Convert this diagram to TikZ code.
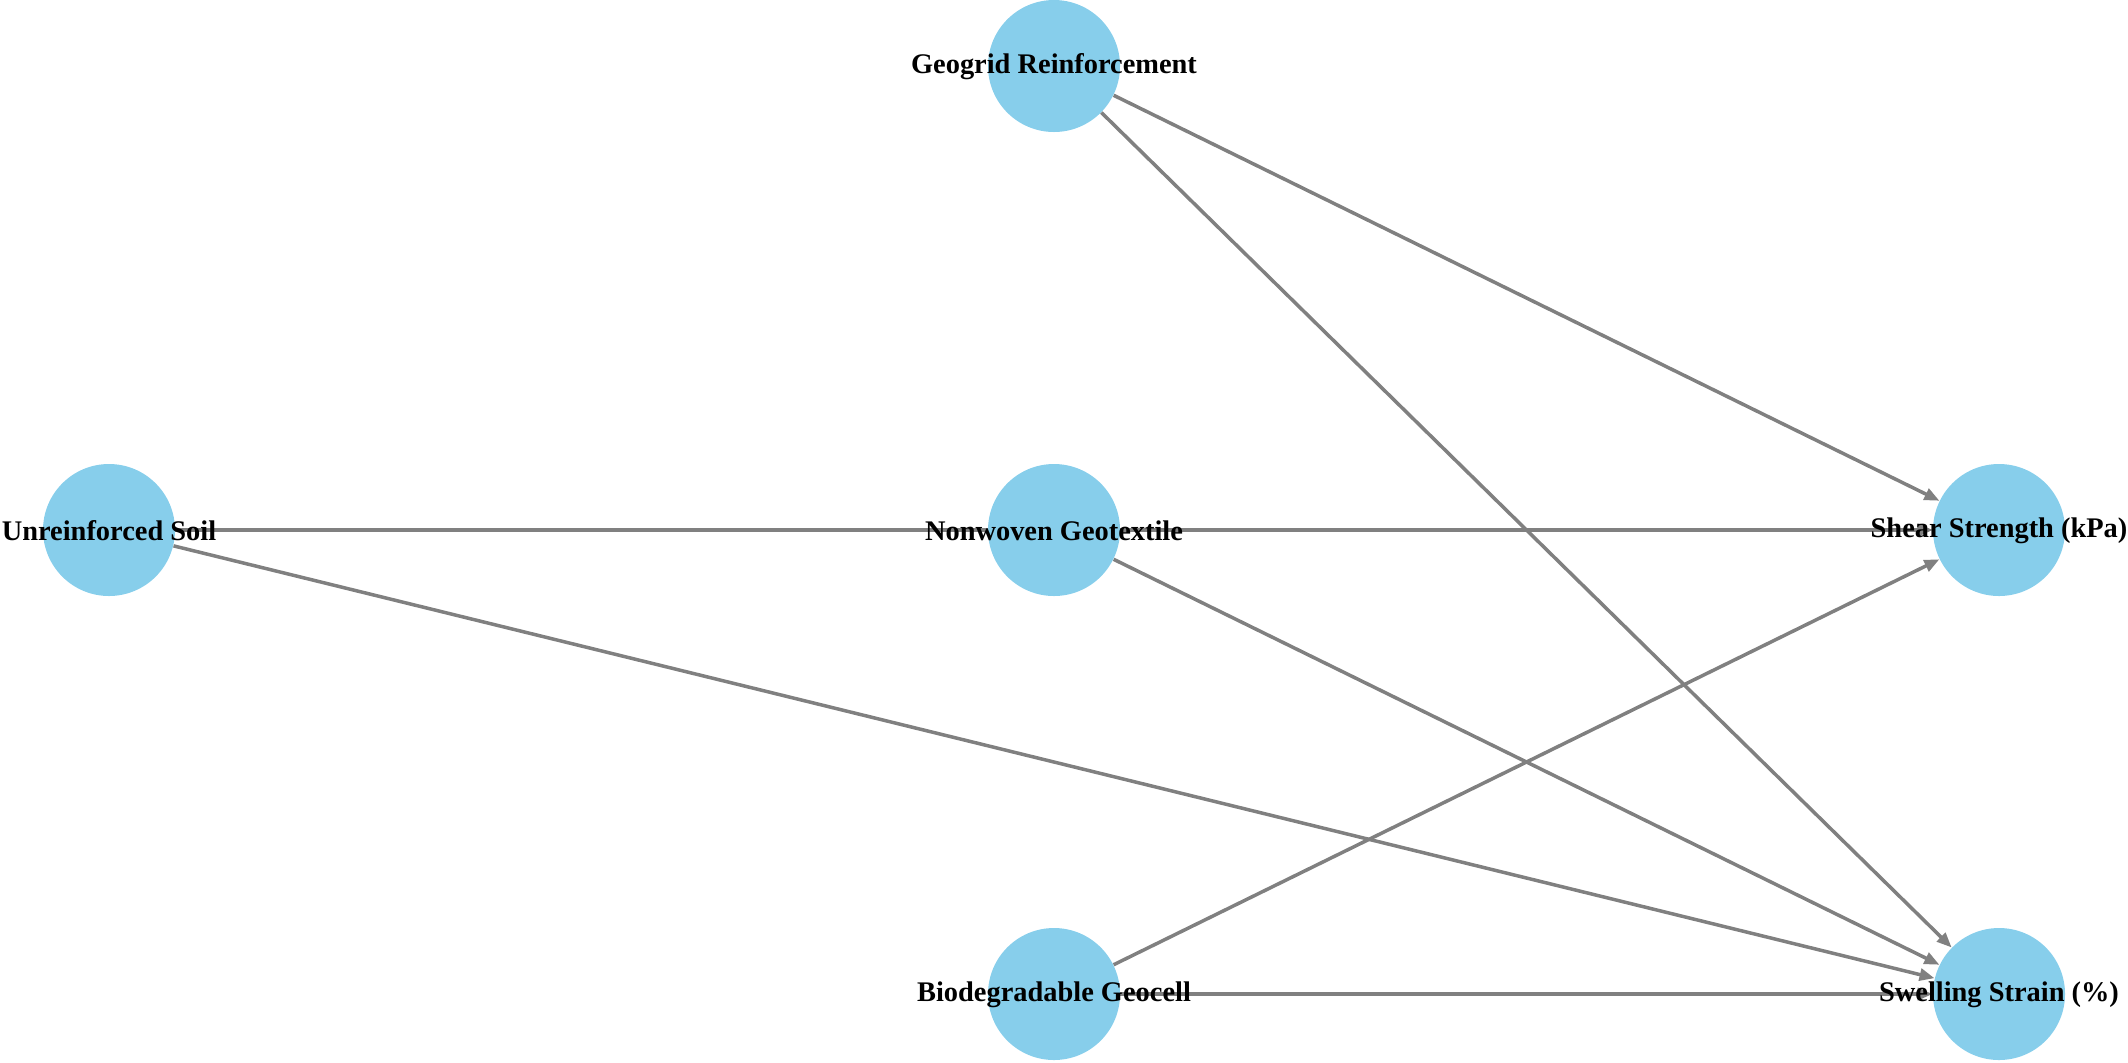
\documentclass[tikz,border=0pt]{standalone}
\usepackage{fontspec}
\setmainfont{Liberation Serif}
\usetikzlibrary{arrows.meta}
\definecolor{skyfill}{RGB}{135,206,235}
\definecolor{edgegray}{RGB}{128,128,128}
\pgfdeclarelayer{bg}
\pgfsetlayers{bg,main}
\tikzset{
  vnode/.style={circle, fill=skyfill, draw=none, minimum size=66pt, inner sep=0pt,
    label={[font=\fontsize{14.2pt}{16pt}\selectfont\bfseries, text=black, inner sep=0pt, yshift=-0.5pt]center:#1}},
  edgeline/.style={draw=edgegray, line width=1.75pt, -{Triangle[length=7.5pt,width=6pt]}}
}
\begin{document}
\begin{tikzpicture}[x=0.5pt,y=-0.5pt]
\useasboundingbox (0,0) rectangle (2128,1062);
\node[vnode={Unreinforced Soil}] (us) at (109,530) {};
\node[vnode={Geogrid Reinforcement}] (gr) at (1054,66) {};
\node[vnode={Nonwoven Geotextile}] (ng) at (1054,530) {};
\node[vnode={Biodegradable Geocell}] (bg) at (1054,994) {};
\node[vnode={Shear Strength (kPa)}] (ss) at (1999,530) {};
\node[vnode={Swelling Strain (\%)}] (sw) at (1999,994) {};
\begin{pgfonlayer}{bg}
\draw[edgeline] (us) -- (ss);
\draw[edgeline] (us) -- (sw);
\draw[edgeline] (ng) -- (ss);
\draw[edgeline] (ng) -- (sw);
\draw[edgeline] (gr) -- (ss);
\draw[edgeline] (gr) -- (sw);
\draw[edgeline] (bg) -- (ss);
\draw[edgeline] (bg) -- (sw);
\end{pgfonlayer}
\end{tikzpicture}
\end{document}
